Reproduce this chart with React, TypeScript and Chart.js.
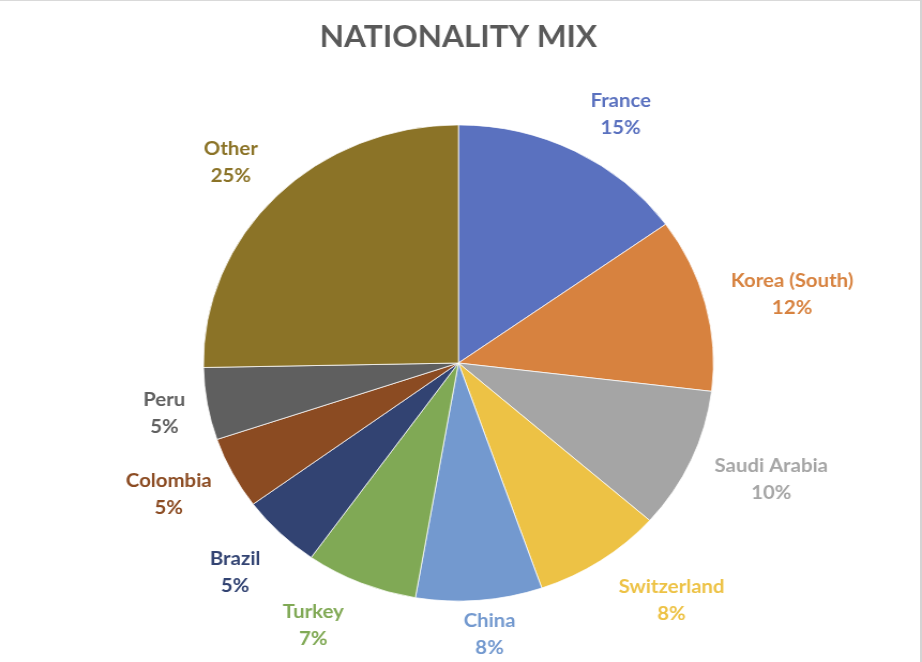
import React, { useEffect, useRef } from "react";
import { Chart, registerables } from "chart.js";

Chart.register(...registerables);

const categories = [
  "France",
  "Korea (South)",
  "Saudi Arabia",
  "Switzerland",
  "China",
  "Turkey",
  "Brazil",
  "Colombia",
  "Peru",
  "Other",
];
const shares = [15.1, 11.8, 9.6, 8.2, 8.0, 7.1, 5.1, 4.9, 4.9, 25.3];
const sliceColors = [
  "#5A71BF",
  "#D7823F",
  "#A5A5A5",
  "#EDC245",
  "#7399CF",
  "#80A955",
  "#324372",
  "#8B4B22",
  "#5F5F5F",
  "#8B7327",
];
const chartTitle = "NATIONALITY MIX";

// label placement nudges (px), layout only
const labelNudges: [number, number][] = [
  [18.9, 3.2],
  [2.3, 1.9],
  [4.6, 0.9],
  [25.5, 2.6],
  [5.7, -10.6],
  [-24.3, 1.1],
  [-8.4, 7.0],
  [-2.6, 0.4],
  [2.9, 2.0],
  [-7.5, -2.6],
];

const FONT = "Lato, 'Open Sans', sans-serif";
const STRETCH = 1.071;
const CSS_W = 922;
const CSS_H = 662;
const INT_W = Math.round(CSS_W / STRETCH);

const outsideLabels = {
  id: "outsideLabels",
  afterDatasetsDraw(chart: any) {
    const ctx = chart.ctx as CanvasRenderingContext2D;
    const meta = chart.getDatasetMeta(0);
    const data = chart.data.datasets[0].data as number[];
    const total = data.reduce((a, b) => a + b, 0);
    ctx.save();
    ctx.font = `bold 19px ${FONT}`;
    ctx.textAlign = "center";
    ctx.textBaseline = "alphabetic";
    meta.data.forEach((arc: any, i: number) => {
      const p = arc.getProps(["x", "y", "startAngle", "endAngle", "outerRadius"], true);
      const mid = (p.startAngle + p.endAngle) / 2;
      const ux = Math.cos(mid);
      const uy = Math.sin(mid);
      const name = chart.data.labels[i] as string;
      const pct = Math.round((data[i] / total) * 100) + "%";
      const hw = Math.max(ctx.measureText(name).width, ctx.measureText(pct).width) / 2;
      const R = p.outerRadius + 24;
      const nudge = labelNudges[i] || [0, 0];
      const cx = p.x + ux * (R + hw) + nudge[0];
      const cy = p.y + uy * (R + 21) + nudge[1];
      ctx.fillStyle = (chart.data.datasets[0].backgroundColor as string[])[i];
      ctx.fillText(name, cx, cy - 7.5);
      ctx.fillText(pct, cx, cy + 19.5);
    });
    ctx.restore();
  },
};

export default function App() {
  const canvasRef = useRef<HTMLCanvasElement | null>(null);

  useEffect(() => {
    document.body.style.margin = "0";
    const canvas = canvasRef.current;
    if (!canvas) return;
    const chart = new Chart(canvas, {
      type: "pie",
      data: {
        labels: categories,
        datasets: [
          {
            data: shares,
            backgroundColor: sliceColors,
            borderColor: "#ffffff",
            borderWidth: 0.75,
          },
        ],
      },
      options: {
        responsive: false,
        animation: false,
        devicePixelRatio: 1,
        layout: {
          padding: { left: 189.6, right: 194.4, top: 0, bottom: 60 },
        },
        plugins: {
          legend: { display: false },
          tooltip: { enabled: false },
          title: {
            display: true,
            text: chartTitle,
            color: "#595959",
            font: { family: FONT, size: 29.5, weight: "bold" },
            padding: { top: 20, bottom: 68.6 },
          },
        },
      },
      plugins: [outsideLabels],
    });
    return () => chart.destroy();
  }, []);

  return (
    <div style={{ position: "relative", width: CSS_W, height: CSS_H, background: "#ffffff", overflow: "hidden" }}>
      <canvas
        ref={canvasRef}
        width={INT_W}
        height={CSS_H}
        style={{ width: CSS_W + "px", height: CSS_H + "px", display: "block" }}
      />
      <div style={{ position: "absolute", left: 0, top: 0, width: CSS_W, height: 1, background: "#d9d9d9" }} />
      <div style={{ position: "absolute", right: 0, top: 0, width: 2, height: CSS_H, background: "#d4d4d4" }} />
    </div>
  );
}
